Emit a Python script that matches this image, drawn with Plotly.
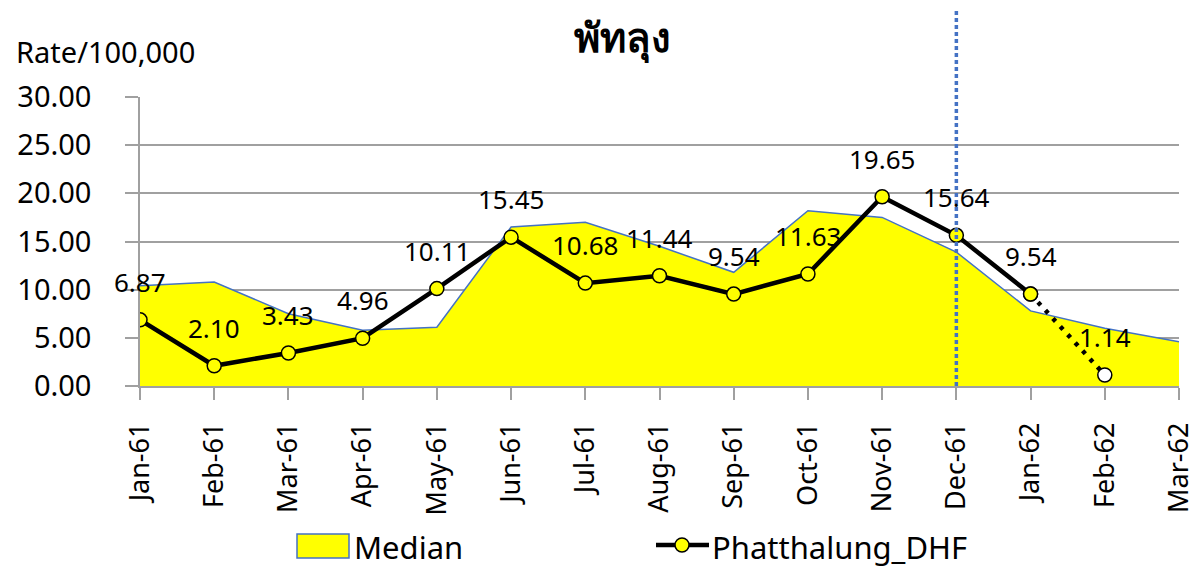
import plotly.graph_objects as go

months = ["Jan-61", "Feb-61", "Mar-61", "Apr-61", "May-61", "Jun-61", "Jul-61",
          "Aug-61", "Sep-61", "Oct-61", "Nov-61", "Dec-61", "Jan-62", "Feb-62", "Mar-62"]
median = [10.4, 10.8, 7.5, 5.8, 6.1, 16.5, 17.0, 14.5, 11.8, 18.2, 17.5, 13.9, 7.8, 6.0, 4.6]
dhf = [6.87, 2.10, 3.43, 4.96, 10.11, 15.45, 10.68, 11.44, 9.54, 11.63, 19.65, 15.64, 9.54]
dhf_partial = [9.54, 1.14]  # Jan-62 -> Feb-62, month not finished yet
cutoff_month = "Dec-61"

FONT = "Noto Sans"
W, H = 1196, 569
# plot area in pixels: x 140..1179, y 97..386
L, R, T, B = 140, W - 1179, 97, H - 386


def px(x):
    # pixel -> paper x
    return (x - L) / (W - L - R)


def py(y):
    # pixel -> paper y
    return (H - B - y) / (H - T - B)


fig = go.Figure()

# Median area
fig.add_trace(go.Scatter(
    x=months, y=median, mode="lines", fill="tozeroy",
    fillcolor="#FFFF00", line=dict(color="#4472C4", width=1.5),
    name="Median",
))

# dotted part for the partial month
fig.add_trace(go.Scatter(
    x=months[12:14], y=dhf_partial, mode="lines+markers",
    line=dict(color="black", width=4.5, dash="4px,7px"),
    marker=dict(size=14, color=["#FFFF00", "white"], line=dict(color="black", width=1.5)),
    name="Phatthalung_DHF", hoverinfo="skip",
))

# Phatthalung DHF
fig.add_trace(go.Scatter(
    x=months[:len(dhf)], y=dhf, mode="lines+markers",
    line=dict(color="black", width=4.5),
    marker=dict(size=14, color="#FFFF00", line=dict(color="black", width=1.5)),
    name="Phatthalung_DHF",
))

# data labels
label_x = months[:len(dhf)] + [months[13]]
label_y = dhf + [dhf_partial[1]]
for xv, yv in zip(label_x, label_y):
    fig.add_annotation(
        x=xv, y=yv, text=f"{yv:.2f}", showarrow=False, yshift=38,
        font=dict(family=FONT, size=26, color="black"),
    )

# vertical dotted marker for the current month
fig.add_shape(
    type="line", xref="x", yref="paper", x0=cutoff_month, x1=cutoff_month,
    y0=0, y1=py(8), line=dict(color="#4472C4", width=3.5, dash="4px,3px"),
)

fig.add_annotation(
    xref="paper", yref="paper", x=px(14), y=py(51), xanchor="left", yanchor="middle",
    text="Rate/100,000", showarrow=False,
    font=dict(family=FONT, size=29, color="black"),
)

# legend drawn by hand (plotly legend symbols can't be this large)
fig.add_shape(type="rect", xref="paper", yref="paper",
              x0=px(297), x1=px(349), y0=py(558), y1=py(534),
              fillcolor="#FFFF00", line=dict(color="#4472C4", width=1.5))
fig.add_annotation(xref="paper", yref="paper", x=px(352), y=py(547),
                   xanchor="left", yanchor="middle", text="Median", showarrow=False,
                   font=dict(family=FONT, size=31, color="black"))
fig.add_shape(type="line", xref="paper", yref="paper",
              x0=px(656), x1=px(709), y0=py(545), y1=py(545),
              line=dict(color="black", width=4.5))
fig.add_shape(type="circle", xref="paper", yref="paper",
              x0=px(675), x1=px(689), y0=py(552), y1=py(538),
              fillcolor="#FFFF00", line=dict(color="black", width=1.5))
fig.add_annotation(xref="paper", yref="paper", x=px(710), y=py(547),
                   xanchor="left", yanchor="middle", text="Phatthalung_DHF", showarrow=False,
                   font=dict(family=FONT, size=31, color="black"))

fig.update_layout(
    width=W, height=H,
    margin=dict(l=L, r=R, t=T, b=B),
    paper_bgcolor="white", plot_bgcolor="white",
    title=dict(text="<b>พัทลุง</b>", x=622 / W, xanchor="center",
               y=1 - 38 / H, yanchor="middle",
               font=dict(family="Noto Sans, Tahoma, sans-serif", size=40, color="black")),
    showlegend=False,
)

fig.update_xaxes(
    type="category", range=[0, len(months) - 1], automargin=False,
    tickangle=-90, tickfont=dict(family=FONT, size=27, color="black"),
    showgrid=False, showline=True, linecolor="#A0A0A0", linewidth=1.5,
    ticks="outside", ticklen=12, tickcolor="#A0A0A0", tickwidth=1.5,
    ticklabelstandoff=12,
)
fig.update_yaxes(
    range=[0, 30], dtick=5, tickformat=".2f", automargin=False,
    tickfont=dict(family=FONT, size=29, color="black"),
    showgrid=True, gridcolor="#A0A0A0", gridwidth=1.5,
    showline=True, linecolor="#A0A0A0", linewidth=1.5,
    ticks="outside", ticklen=13, tickcolor="#A0A0A0", tickwidth=1.5, zeroline=False,
    ticklabelstandoff=28,
)

# full-window figure: drop the default page margin
fig.write_html("out.html", config={"displayModeBar": False},
               post_script="document.body.style.margin='0';")
